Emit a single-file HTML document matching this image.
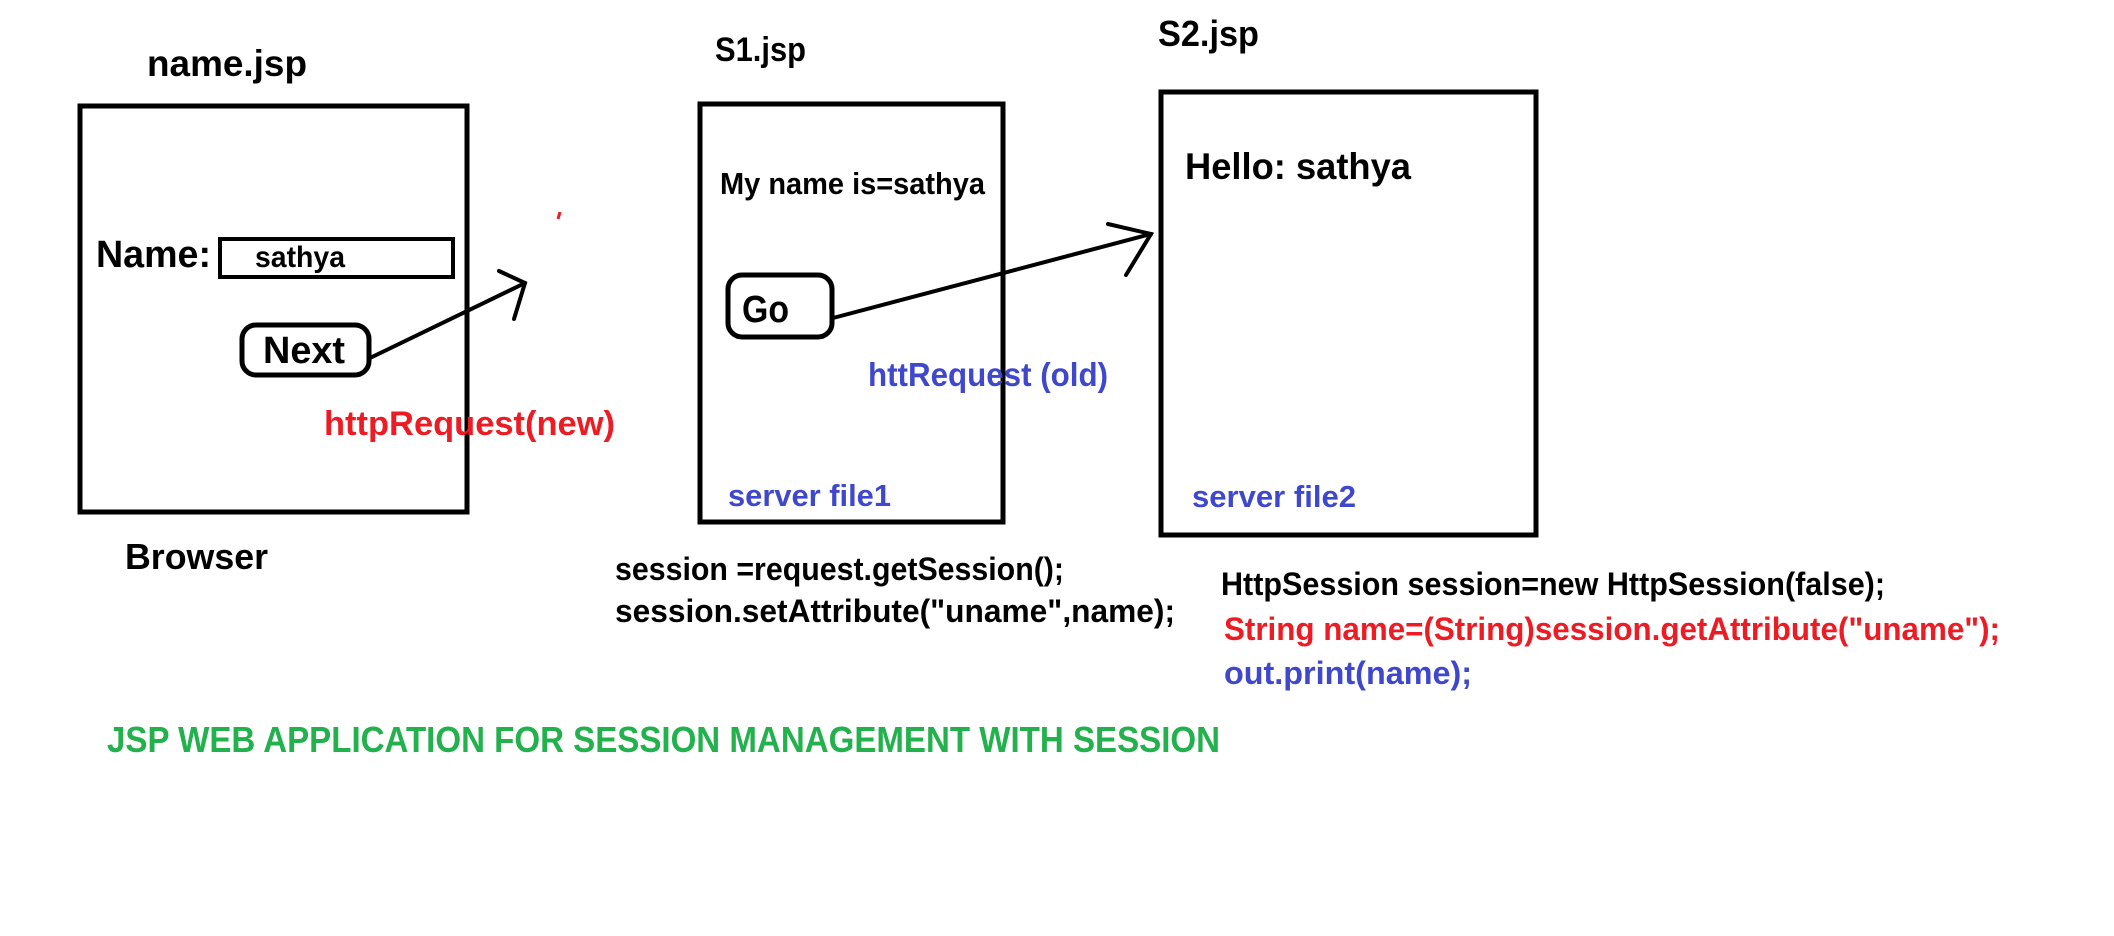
<!DOCTYPE html>
<html><head><meta charset="utf-8"><style>html,body{margin:0;padding:0;background:#fff}svg{display:block}text{font-family:"Liberation Sans",sans-serif;font-weight:bold}</style></head>
<body>
<svg width="2114" height="936" viewBox="0 0 2114 936" xmlns="http://www.w3.org/2000/svg">
<rect width="2114" height="936" fill="#fff"/>
<g fill="none" stroke="#000" stroke-width="5">
<rect x="80" y="106" width="387" height="406"/>
<rect x="700" y="104" width="303" height="418"/>
<rect x="1161" y="92" width="375" height="443"/>
<rect x="220" y="239" width="233" height="38" stroke-width="4"/>
<rect x="242" y="325" width="127" height="50" rx="14"/>
<rect x="728" y="275" width="104" height="62" rx="14"/>
</g>
<g fill="none" stroke="#000" stroke-width="4" stroke-linecap="round">
<polyline points="370,358 525,283"/>
<polyline points="499,271 525,283 514,319"/>
<polyline points="833,318 1151,234"/>
<polyline points="1108,224 1151,234 1126,275"/>
</g>
<line x1="560" y1="212" x2="558" y2="219" stroke="#ed1c24" stroke-width="3"/>
<text x="147" y="76" font-size="37" textLength="160" lengthAdjust="spacingAndGlyphs">name.jsp</text>
<text x="96" y="267" font-size="38" textLength="115" lengthAdjust="spacingAndGlyphs">Name:</text>
<text x="255" y="267" font-size="30" textLength="90" lengthAdjust="spacingAndGlyphs">sathya</text>
<text x="263" y="363" font-size="38" textLength="82" lengthAdjust="spacingAndGlyphs">Next</text>
<text x="324" y="435" font-size="34" fill="#ed1c24" textLength="291" lengthAdjust="spacingAndGlyphs">httpRequest(new)</text>
<text x="125" y="569" font-size="36" textLength="143" lengthAdjust="spacingAndGlyphs">Browser</text>
<text x="715" y="61" font-size="34" textLength="91" lengthAdjust="spacingAndGlyphs">S1.jsp</text>
<text x="720" y="194" font-size="31" textLength="265" lengthAdjust="spacingAndGlyphs">My name is=sathya</text>
<text x="742" y="322" font-size="38" textLength="47" lengthAdjust="spacingAndGlyphs">Go</text>
<text x="868" y="386" font-size="33" fill="#3f48cc" textLength="240" lengthAdjust="spacingAndGlyphs">httRequest (old)</text>
<text x="728" y="506" font-size="31" fill="#3f48cc" textLength="163" lengthAdjust="spacingAndGlyphs">server file1</text>
<text x="615" y="580" font-size="32" textLength="449" lengthAdjust="spacingAndGlyphs">session =request.getSession();</text>
<text x="615" y="622" font-size="32" textLength="560" lengthAdjust="spacingAndGlyphs">session.setAttribute("uname",name);</text>
<text x="1158" y="46" font-size="36" textLength="101" lengthAdjust="spacingAndGlyphs">S2.jsp</text>
<text x="1185" y="179" font-size="37" textLength="226" lengthAdjust="spacingAndGlyphs">Hello: sathya</text>
<text x="1192" y="507" font-size="31" fill="#3f48cc" textLength="164" lengthAdjust="spacingAndGlyphs">server file2</text>
<text x="1221" y="595" font-size="32" textLength="664" lengthAdjust="spacingAndGlyphs">HttpSession session=new HttpSession(false);</text>
<text x="1224" y="640" font-size="32" fill="#ed1c24" textLength="776" lengthAdjust="spacingAndGlyphs">String name=(String)session.getAttribute("uname");</text>
<text x="1224" y="684" font-size="32" fill="#3f48cc" textLength="248" lengthAdjust="spacingAndGlyphs">out.print(name);</text>
<text x="107" y="752" font-size="36" fill="#22b14c" textLength="1113" lengthAdjust="spacingAndGlyphs">JSP WEB APPLICATION FOR SESSION MANAGEMENT WITH SESSION</text>
</svg>
</body></html>
